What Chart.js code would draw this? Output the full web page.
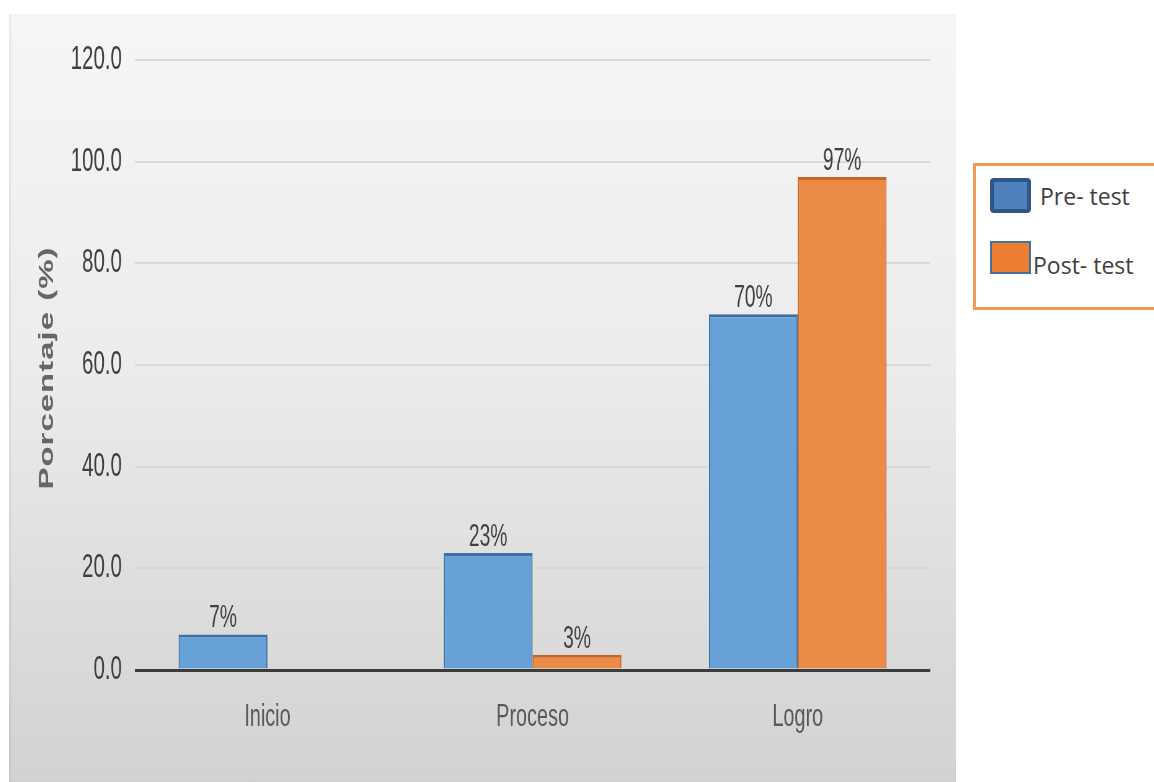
<!DOCTYPE html>
<html>
<head>
<meta charset="utf-8">
<script src="https://cdn.jsdelivr.net/npm/chart.js@4.4.1/dist/chart.umd.min.js"></script>
<style>
  html, body { margin: 0; padding: 0; background: #fff; width: 1154px; height: 782px; overflow: hidden; }
  #panel {
    position: absolute; left: 9px; top: 14px; width: 947px; height: 768px; overflow: hidden;
    background: linear-gradient(to bottom, #f6f6f6 0%, #ececec 45%, #d2d2d2 100%);
    box-shadow: inset 2px 0 2px rgba(0,0,0,0.06);
  }
  /* el grafico original esta comprimido en horizontal */
  #chart { transform: scaleX(0.62); transform-origin: 0 0; }
  #legend {
    position: absolute; left: 973px; top: 163px; width: 200px; height: 141px;
    border: 3px solid #ef9a56; background: #fff; box-sizing: content-box;
    font-family: "Open Sans", "Noto Sans", sans-serif; font-size: 23px; color: #404040;
  }
  .sw { position: absolute; box-sizing: border-box; }
  .lab { position: absolute; white-space: nowrap; line-height: 32px; }
</style>
</head>
<body>
<div id="panel"><canvas id="chart" width="1527" height="768"></canvas></div>
<div id="legend">
  <div class="sw" style="left:14px;top:12px;width:41px;height:35px;background:#4f81bd;border:4px solid #2f5688;border-radius:4px;"></div>
  <div class="lab" style="left:64px;top:14px;">Pre- test</div>
  <div class="sw" style="left:14px;top:75px;width:41px;height:33px;background:#ed7d31;border:2px solid #41719c;"></div>
  <div class="lab" style="left:57px;top:83px;">Post- test</div>
</div>
<script>
  "use strict";

  const categories = ["Inicio", "Proceso", "Logro"];
  const preTest = [7, 23, 70];
  const postTest = [0, 3, 97];
  const seriesNames = ["Pre- test", "Post- test"];
  const yTicks = [0, 20, 40, 60, 80, 100, 120];

  const FAMILY = "'Liberation Sans', Arial, sans-serif";

  // etiquetas de datos encima de las barras
  const barLabels = {
    id: "barLabels",
    afterDatasetsDraw(chart) {
      const ctx = chart.ctx;
      ctx.save();
      ctx.font = "31px " + FAMILY;
      ctx.fillStyle = "#404040";
      ctx.textAlign = "center";
      ctx.textBaseline = "alphabetic";
      chart.data.datasets.forEach((ds, i) => {
        chart.getDatasetMeta(i).data.forEach((bar, j) => {
          const v = ds.data[j];
          if (!v) return;
          ctx.fillText(v + "%", bar.x, bar.y - 7);
        });
      });
      ctx.restore();
    },
  };

  // titulo del eje Y
  const yTitle = {
    id: "yTitle",
    afterDraw(chart) {
      const ctx = chart.ctx;
      const area = chart.chartArea;
      ctx.save();
      ctx.translate(62, (area.top + area.bottom) / 2 + 3);
      ctx.rotate(-Math.PI / 2);
      ctx.font = "bold 33px " + FAMILY;
      ctx.letterSpacing = "1px";
      ctx.fillStyle = "#666666";
      ctx.textAlign = "center";
      ctx.textBaseline = "middle";
      ctx.fillText("Porcentaje (%)", 0, 0);
      ctx.restore();
    },
  };

  new Chart(document.getElementById("chart").getContext("2d"), {
    type: "bar",
    data: {
      labels: categories,
      datasets: [
        {
          label: seriesNames[0],
          data: preTest,
          backgroundColor: "#67a1d8",
          borderColor: "#3d6fa3",
          borderWidth: { top: 3, left: 2, right: 2, bottom: 0 },
          borderSkipped: false,
        },
        {
          label: seriesNames[1],
          data: postTest,
          backgroundColor: "#ec8b45",
          borderColor: "#c4682a",
          borderWidth: { top: 3, left: 2, right: 2, bottom: 0 },
          borderSkipped: false,
        },
      ],
    },
    options: {
      responsive: false,
      animation: false,
      layout: { padding: { left: 0, top: 46, right: 41, bottom: 0 } },
      categoryPercentage: 0.67,
      barPercentage: 1,
      plugins: { legend: { display: false }, tooltip: { enabled: false } },
      scales: {
        x: {
          grid: { display: false },
          border: { display: false },
          ticks: { font: { family: FAMILY, size: 32 }, color: "#595959", padding: 20 },
          afterFit: (s) => { s.height = 112; },
        },
        y: {
          min: 0,
          max: 120,
          afterBuildTicks: (s) => { s.ticks = yTicks.map((v) => ({ value: v })); },
          ticks: {
            font: { family: FAMILY, size: 33 },
            color: "#404040",
            padding: 21,
            callback: (v) => Number(v).toFixed(1),
          },
          grid: {
            drawTicks: false,
            color: (c) => (c.tick && c.tick.value === 0 ? "#3c3c3c" : "#d9d9d9"),
            lineWidth: (c) => (c.tick && c.tick.value === 0 ? 3 : 2),
          },
          border: { display: false },
          afterFit: (s) => { s.width = 203; },
        },
      },
    },
    plugins: [barLabels, yTitle],
  });
</script>
</body>
</html>
